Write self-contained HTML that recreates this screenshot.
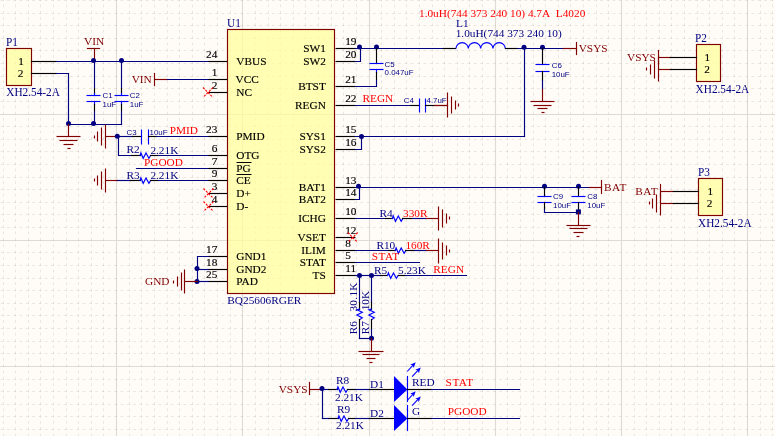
<!DOCTYPE html>
<html><head><meta charset="utf-8"><style>
html,body{margin:0;padding:0;background:#FFFCF8;}
svg{display:block;will-change:transform;}
.se{font-family:"Liberation Serif",serif;}
.sa{font-family:"Liberation Sans",sans-serif;}
</style></head><body>
<svg width="775" height="436" viewBox="0 0 775 436">
<rect width="775" height="436" fill="#FFFCF8"/>
<path d="M3.5,0V436 M15.5,0V436 M28.5,0V436 M40.5,0V436 M53.5,0V436 M66.5,0V436 M78.5,0V436 M91.5,0V436 M103.5,0V436 M129.5,0V436 M141.5,0V436 M154.5,0V436 M167.5,0V436 M179.5,0V436 M192.5,0V436 M204.5,0V436 M217.5,0V436 M230.5,0V436 M255.5,0V436 M268.5,0V436 M280.5,0V436 M293.5,0V436 M305.5,0V436 M318.5,0V436 M331.5,0V436 M343.5,0V436 M356.5,0V436 M381.5,0V436 M394.5,0V436 M406.5,0V436 M419.5,0V436 M432.5,0V436 M444.5,0V436 M457.5,0V436 M469.5,0V436 M482.5,0V436 M507.5,0V436 M520.5,0V436 M533.5,0V436 M545.5,0V436 M558.5,0V436 M570.5,0V436 M583.5,0V436 M596.5,0V436 M608.5,0V436 M634.5,0V436 M646.5,0V436 M659.5,0V436 M671.5,0V436 M684.5,0V436 M697.5,0V436 M709.5,0V436 M722.5,0V436 M734.5,0V436 M760.5,0V436 M772.5,0V436" stroke="rgba(70,70,50,0.115)" stroke-width="1" stroke-dasharray="2.8 3.510" stroke-dashoffset="1.780" fill="none"/>
<path d="M0,0.5H775 M0,13.5H775 M0,25.5H775 M0,38.5H775 M0,50.5H775 M0,63.5H775 M0,76.5H775 M0,88.5H775 M0,101.5H775 M0,126.5H775 M0,139.5H775 M0,151.5H775 M0,164.5H775 M0,177.5H775 M0,189.5H775 M0,202.5H775 M0,214.5H775 M0,227.5H775 M0,252.5H775 M0,265.5H775 M0,278.5H775 M0,290.5H775 M0,303.5H775 M0,315.5H775 M0,328.5H775 M0,341.5H775 M0,353.5H775 M0,379.5H775 M0,391.5H775 M0,404.5H775 M0,416.5H775 M0,429.5H775" stroke="rgba(70,70,50,0.115)" stroke-width="1" stroke-dasharray="2.8 3.510" stroke-dashoffset="5.690" fill="none"/>
<path d="M116.5,0V436 M242.5,0V436 M369.5,0V436 M495.5,0V436 M621.5,0V436 M747.5,0V436 M0,114.5H775 M0,240.5H775 M0,366.5H775" stroke="rgba(70,70,50,0.18)" stroke-width="1.15" fill="none"/>
<rect x="6.5" y="48.5" width="25" height="37" fill="#FFFF98" fill-opacity="0.72"/>
<rect x="696.5" y="44.5" width="24" height="37" fill="#FFFF98" fill-opacity="0.72"/>
<rect x="698.5" y="178.5" width="24" height="37" fill="#FFFF98" fill-opacity="0.72"/>
<rect x="227.5" y="29.5" width="107" height="264" fill="#FFFF98" fill-opacity="0.72"/>
<rect x="6.5" y="48.5" width="25" height="37" fill="none" stroke="#800000" stroke-width="1.15"/>
<rect x="696.5" y="44.5" width="24" height="37" fill="none" stroke="#800000" stroke-width="1.15"/>
<rect x="698.5" y="178.5" width="24" height="37" fill="none" stroke="#800000" stroke-width="1.15"/>
<rect x="227.5" y="29.5" width="107" height="264" fill="none" stroke="#800000" stroke-width="1.15"/>
<text transform="translate(6,45.65) scale(1,1.1)" class="se" fill="#000080" font-size="11.3" text-anchor="start" >P1</text>
<text x="21.2" y="64.95" class="se" fill="#000000" stroke="#000000" stroke-width="0.15" font-size="11.3" text-anchor="middle" >1</text>
<text x="20.6" y="77.25" class="se" fill="#000000" stroke="#000000" stroke-width="0.15" font-size="11.3" text-anchor="middle" >2</text>
<text transform="translate(6.3,95.95) scale(1,1.1)" class="se" fill="#000080" font-size="11.3" text-anchor="start" >XH2.54-2A</text>
<line x1="31.5" y1="61.5" x2="56.5" y2="61.5" stroke="#000000" stroke-width="1.15" stroke-linecap="square" />
<line x1="31.5" y1="73.5" x2="56.5" y2="73.5" stroke="#000000" stroke-width="1.15" stroke-linecap="square" />
<line x1="56.5" y1="61.5" x2="208.5" y2="61.5" stroke="#000080" stroke-width="1.15" stroke-linecap="square" />
<polyline points="56.5,73.5 68.5,73.5 68.5,124.5" stroke="#000080" stroke-width="1.15" fill="none" stroke-linecap="square" />
<text x="84" y="45.45" class="se" fill="#800000" font-size="11.3" text-anchor="start" >VIN</text>
<line x1="87.5" y1="48.5" x2="99.5" y2="48.5" stroke="#800000" stroke-width="1.15" stroke-linecap="square" />
<line x1="94.5" y1="48.5" x2="94.5" y2="61.5" stroke="#800000" stroke-width="1.15" stroke-linecap="square" />
<circle cx="93.5" cy="60.4" r="2.5" fill="#000080"/>
<circle cx="121.5" cy="60.4" r="2.5" fill="#000080"/>
<line x1="94.5" y1="61.5" x2="94.5" y2="87.5" stroke="#000080" stroke-width="1.15" stroke-linecap="square" />
<line x1="94.5" y1="88.5" x2="94.5" y2="93.5" stroke="#000000" stroke-width="1.15" stroke-linecap="square" />
<line x1="94.5" y1="93.5" x2="94.5" y2="95.5" stroke="#0000FF" stroke-width="1.15" stroke-linecap="square" />
<line x1="86.5" y1="95.5" x2="100.5" y2="95.5" stroke="#0000FF" stroke-width="1.15" stroke-linecap="butt" />
<line x1="86.5" y1="101.5" x2="100.5" y2="101.5" stroke="#0000FF" stroke-width="1.15" stroke-linecap="butt" />
<line x1="94.5" y1="101.5" x2="94.5" y2="104.5" stroke="#0000FF" stroke-width="1.15" stroke-linecap="square" />
<line x1="94.5" y1="104.5" x2="94.5" y2="110.5" stroke="#000000" stroke-width="1.15" stroke-linecap="square" />
<line x1="94.5" y1="111.5" x2="94.5" y2="124.5" stroke="#000080" stroke-width="1.15" stroke-linecap="square" />
<line x1="121.5" y1="61.5" x2="121.5" y2="87.5" stroke="#000080" stroke-width="1.15" stroke-linecap="square" />
<line x1="121.5" y1="88.5" x2="121.5" y2="93.5" stroke="#000000" stroke-width="1.15" stroke-linecap="square" />
<line x1="121.5" y1="93.5" x2="121.5" y2="95.5" stroke="#0000FF" stroke-width="1.15" stroke-linecap="square" />
<line x1="114.5" y1="95.5" x2="128.5" y2="95.5" stroke="#0000FF" stroke-width="1.15" stroke-linecap="butt" />
<line x1="114.5" y1="101.5" x2="128.5" y2="101.5" stroke="#0000FF" stroke-width="1.15" stroke-linecap="butt" />
<line x1="121.5" y1="101.5" x2="121.5" y2="104.5" stroke="#0000FF" stroke-width="1.15" stroke-linecap="square" />
<line x1="121.5" y1="104.5" x2="121.5" y2="110.5" stroke="#000000" stroke-width="1.15" stroke-linecap="square" />
<line x1="121.5" y1="111.5" x2="121.5" y2="124.5" stroke="#000080" stroke-width="1.15" stroke-linecap="square" />
<text x="102.5" y="98.02" class="sa" fill="#000080" font-size="7.9" text-anchor="start" >C1</text>
<text x="102.5" y="106.82" class="sa" fill="#000080" font-size="7.9" text-anchor="start" >1uF</text>
<text x="129.8" y="98.02" class="sa" fill="#000080" font-size="7.9" text-anchor="start" >C2</text>
<text x="129.8" y="106.82" class="sa" fill="#000080" font-size="7.9" text-anchor="start" >1uF</text>
<line x1="68.5" y1="124.5" x2="121.5" y2="124.5" stroke="#000080" stroke-width="1.15" stroke-linecap="square" />
<circle cx="68.5" cy="123.4" r="2.5" fill="#000080"/>
<circle cx="93.5" cy="123.4" r="2.5" fill="#000080"/>
<line x1="68.5" y1="124.5" x2="68.5" y2="136.5" stroke="#800000" stroke-width="1.15" stroke-linecap="square" />
<line x1="56.5" y1="136.5" x2="80.5" y2="136.5" stroke="#800000" stroke-width="1.15" stroke-linecap="butt" />
<line x1="59.5" y1="140.5" x2="77.5" y2="140.5" stroke="#800000" stroke-width="1.15" stroke-linecap="butt" />
<line x1="63.5" y1="144.5" x2="73.5" y2="144.5" stroke="#800000" stroke-width="1.15" stroke-linecap="butt" />
<line x1="67.5" y1="148.5" x2="70.5" y2="148.5" stroke="#800000" stroke-width="1.15" stroke-linecap="butt" />
<line x1="117.5" y1="136.5" x2="105.5" y2="136.5" stroke="#800000" stroke-width="1.15" stroke-linecap="square" />
<line x1="105.5" y1="124.5" x2="105.5" y2="148.5" stroke="#800000" stroke-width="1.15" stroke-linecap="butt" />
<line x1="101.5" y1="127.5" x2="101.5" y2="145.5" stroke="#800000" stroke-width="1.15" stroke-linecap="butt" />
<line x1="97.5" y1="131.5" x2="97.5" y2="141.5" stroke="#800000" stroke-width="1.15" stroke-linecap="butt" />
<line x1="94.5" y1="135.5" x2="94.5" y2="138.5" stroke="#800000" stroke-width="1.15" stroke-linecap="butt" />
<circle cx="117.3" cy="136.2" r="2.5" fill="#000080"/>
<line x1="117.5" y1="136.5" x2="132.5" y2="136.5" stroke="#000080" stroke-width="1.15" stroke-linecap="square" />
<line x1="132.5" y1="136.5" x2="141.5" y2="136.5" stroke="#000000" stroke-width="1.15" stroke-linecap="square" />
<line x1="141.5" y1="129.5" x2="141.5" y2="144.5" stroke="#0000FF" stroke-width="1.15" stroke-linecap="butt" />
<line x1="148.5" y1="129.5" x2="148.5" y2="144.5" stroke="#0000FF" stroke-width="1.15" stroke-linecap="butt" />
<line x1="148.5" y1="136.5" x2="156.5" y2="136.5" stroke="#000000" stroke-width="1.15" stroke-linecap="square" />
<line x1="156.5" y1="136.5" x2="208.5" y2="136.5" stroke="#000080" stroke-width="1.15" stroke-linecap="square" />
<text x="126.5" y="134.82" class="sa" fill="#000080" font-size="7.9" text-anchor="start" >C3</text>
<text x="149.5" y="135.22" class="sa" fill="#000080" font-size="7.9" text-anchor="start" >10uF</text>
<text x="169.7" y="133.85" class="se" fill="#FF0000" font-size="11.3" text-anchor="start" >PMID</text>
<polyline points="118.5,136.5 118.5,155.5 131.5,155.5" stroke="#000080" stroke-width="1.15" fill="none" stroke-linecap="square" />
<line x1="131.5" y1="155.5" x2="140.5" y2="155.5" stroke="#000000" stroke-width="1.15" stroke-linecap="square" />
<polyline points="140,155.5 140.9,152.9 143.2,158.3 146.0,152.9 148.9,158.3 150.6,155.5" stroke="#0000FF" stroke-width="1.15" fill="none" stroke-linecap="square" />
<line x1="150.5" y1="155.5" x2="158.5" y2="155.5" stroke="#000000" stroke-width="1.15" stroke-linecap="square" />
<line x1="158.5" y1="155.5" x2="208.5" y2="155.5" stroke="#000080" stroke-width="1.15" stroke-linecap="square" />
<text x="126.5" y="153.15" class="se" fill="#000080" font-size="11.3" text-anchor="start" >R2</text>
<text x="150.4" y="153.65" class="se" fill="#000080" font-size="11.3" text-anchor="start" >2.21K</text>
<text x="144" y="165.95" class="se" fill="#FF0000" font-size="11.3" text-anchor="start" >PGOOD</text>
<line x1="136.5" y1="168.5" x2="208.5" y2="168.5" stroke="#000080" stroke-width="1.15" stroke-linecap="square" />
<line x1="117.5" y1="180.5" x2="105.5" y2="180.5" stroke="#800000" stroke-width="1.15" stroke-linecap="square" />
<line x1="105.5" y1="168.5" x2="105.5" y2="192.5" stroke="#800000" stroke-width="1.15" stroke-linecap="butt" />
<line x1="101.5" y1="171.5" x2="101.5" y2="189.5" stroke="#800000" stroke-width="1.15" stroke-linecap="butt" />
<line x1="97.5" y1="175.5" x2="97.5" y2="185.5" stroke="#800000" stroke-width="1.15" stroke-linecap="butt" />
<line x1="94.5" y1="178.5" x2="94.5" y2="181.5" stroke="#800000" stroke-width="1.15" stroke-linecap="butt" />
<line x1="117.5" y1="180.5" x2="130.5" y2="180.5" stroke="#000080" stroke-width="1.15" stroke-linecap="square" />
<line x1="130.5" y1="180.5" x2="140.5" y2="180.5" stroke="#000000" stroke-width="1.15" stroke-linecap="square" />
<polyline points="140,180.5 140.9,177.9 143.2,183.3 146.0,177.9 148.9,183.3 150.6,180.5" stroke="#0000FF" stroke-width="1.15" fill="none" stroke-linecap="square" />
<line x1="150.5" y1="180.5" x2="158.5" y2="180.5" stroke="#000000" stroke-width="1.15" stroke-linecap="square" />
<line x1="158.5" y1="180.5" x2="208.5" y2="180.5" stroke="#000080" stroke-width="1.15" stroke-linecap="square" />
<text x="126.5" y="178.85" class="se" fill="#000080" font-size="11.3" text-anchor="start" >R3</text>
<text x="150.4" y="179.15" class="se" fill="#000080" font-size="11.3" text-anchor="start" >2.21K</text>
<text x="131.7" y="83.25" class="se" fill="#800000" font-size="11.3" text-anchor="start" >VIN</text>
<line x1="154.5" y1="73.5" x2="154.5" y2="85.5" stroke="#800000" stroke-width="1.15" stroke-linecap="square" />
<line x1="154.5" y1="79.5" x2="167.5" y2="79.5" stroke="#800000" stroke-width="1.15" stroke-linecap="square" />
<line x1="167.5" y1="79.5" x2="208.5" y2="79.5" stroke="#000080" stroke-width="1.15" stroke-linecap="square" />
<text transform="translate(227.0,27.25) scale(1,1.1)" class="se" fill="#000080" font-size="11.3" text-anchor="start" >U1</text>
<text x="227.3" y="303.85" class="se" fill="#000080" font-size="11.3" text-anchor="start" >BQ25606RGER</text>
<line x1="208.5" y1="61.5" x2="227.5" y2="61.5" stroke="#000000" stroke-width="1.15" stroke-linecap="butt" />
<text x="217.3" y="58.3" class="se" fill="#000000" stroke="#000000" stroke-width="0.15" font-size="11.3" text-anchor="end" >24</text>
<text x="236.3" y="65.0" class="se" fill="#000000" stroke="#000000" stroke-width="0.15" font-size="11.3" text-anchor="start" >VBUS</text>
<line x1="208.5" y1="79.5" x2="227.5" y2="79.5" stroke="#000000" stroke-width="1.15" stroke-linecap="butt" />
<text x="217.3" y="76.3" class="se" fill="#000000" stroke="#000000" stroke-width="0.15" font-size="11.3" text-anchor="end" >1</text>
<text x="235.5" y="83.0" class="se" fill="#000000" stroke="#000000" stroke-width="0.15" font-size="11.3" text-anchor="start" >VCC</text>
<line x1="208.5" y1="92.5" x2="227.5" y2="92.5" stroke="#000000" stroke-width="1.15" stroke-linecap="butt" />
<text x="217.3" y="89.3" class="se" fill="#000000" stroke="#000000" stroke-width="0.15" font-size="11.3" text-anchor="end" >2</text>
<text x="236.3" y="96.0" class="se" fill="#000000" stroke="#000000" stroke-width="0.15" font-size="11.3" text-anchor="start" >NC</text>
<line x1="208.5" y1="136.5" x2="227.5" y2="136.5" stroke="#000000" stroke-width="1.15" stroke-linecap="butt" />
<text x="217.3" y="133.3" class="se" fill="#000000" stroke="#000000" stroke-width="0.15" font-size="11.3" text-anchor="end" >23</text>
<text x="236.3" y="140.0" class="se" fill="#000000" stroke="#000000" stroke-width="0.15" font-size="11.3" text-anchor="start" >PMID</text>
<line x1="208.5" y1="155.5" x2="227.5" y2="155.5" stroke="#000000" stroke-width="1.15" stroke-linecap="butt" />
<text x="217.3" y="152.3" class="se" fill="#000000" stroke="#000000" stroke-width="0.15" font-size="11.3" text-anchor="end" >6</text>
<text x="236.3" y="159.0" class="se" fill="#000000" stroke="#000000" stroke-width="0.15" font-size="11.3" text-anchor="start" >OTG</text>
<line x1="208.5" y1="168.5" x2="227.5" y2="168.5" stroke="#000000" stroke-width="1.15" stroke-linecap="butt" />
<text x="217.3" y="165.3" class="se" fill="#000000" stroke="#000000" stroke-width="0.15" font-size="11.3" text-anchor="end" >7</text>
<text x="236.3" y="172.0" class="se" fill="#000000" stroke="#000000" stroke-width="0.15" font-size="11.3" text-anchor="start" >PG</text>
<line x1="208.5" y1="180.5" x2="227.5" y2="180.5" stroke="#000000" stroke-width="1.15" stroke-linecap="butt" />
<text x="217.3" y="177.3" class="se" fill="#000000" stroke="#000000" stroke-width="0.15" font-size="11.3" text-anchor="end" >9</text>
<text x="236.3" y="184.0" class="se" fill="#000000" stroke="#000000" stroke-width="0.15" font-size="11.3" text-anchor="start" >CE</text>
<line x1="208.5" y1="193.5" x2="227.5" y2="193.5" stroke="#000000" stroke-width="1.15" stroke-linecap="butt" />
<text x="217.3" y="190.3" class="se" fill="#000000" stroke="#000000" stroke-width="0.15" font-size="11.3" text-anchor="end" >3</text>
<text x="236.3" y="197.0" class="se" fill="#000000" stroke="#000000" stroke-width="0.15" font-size="11.3" text-anchor="start" >D+</text>
<line x1="208.5" y1="206.5" x2="227.5" y2="206.5" stroke="#000000" stroke-width="1.15" stroke-linecap="butt" />
<text x="217.3" y="203.3" class="se" fill="#000000" stroke="#000000" stroke-width="0.15" font-size="11.3" text-anchor="end" >4</text>
<text x="236.3" y="210.0" class="se" fill="#000000" stroke="#000000" stroke-width="0.15" font-size="11.3" text-anchor="start" >D-</text>
<line x1="208.5" y1="256.5" x2="227.5" y2="256.5" stroke="#000000" stroke-width="1.15" stroke-linecap="butt" />
<text x="217.3" y="253.3" class="se" fill="#000000" stroke="#000000" stroke-width="0.15" font-size="11.3" text-anchor="end" >17</text>
<text x="236.3" y="260.0" class="se" fill="#000000" stroke="#000000" stroke-width="0.15" font-size="11.3" text-anchor="start" >GND1</text>
<line x1="208.5" y1="269.5" x2="227.5" y2="269.5" stroke="#000000" stroke-width="1.15" stroke-linecap="butt" />
<text x="217.3" y="266.3" class="se" fill="#000000" stroke="#000000" stroke-width="0.15" font-size="11.3" text-anchor="end" >18</text>
<text x="236.3" y="273.0" class="se" fill="#000000" stroke="#000000" stroke-width="0.15" font-size="11.3" text-anchor="start" >GND2</text>
<line x1="208.5" y1="281.5" x2="227.5" y2="281.5" stroke="#000000" stroke-width="1.15" stroke-linecap="butt" />
<text x="217.3" y="278.3" class="se" fill="#000000" stroke="#000000" stroke-width="0.15" font-size="11.3" text-anchor="end" >25</text>
<text x="236.3" y="285.0" class="se" fill="#000000" stroke="#000000" stroke-width="0.15" font-size="11.3" text-anchor="start" >PAD</text>
<line x1="236.5" y1="162.5" x2="251.5" y2="162.5" stroke="#000000" stroke-width="1" stroke-linecap="butt" />
<line x1="236.5" y1="174.5" x2="251.5" y2="174.5" stroke="#000000" stroke-width="1" stroke-linecap="butt" />
<path d="M203.0,87.5L213.0,97.5M213.0,87.5L203.0,97.5" stroke="#FF0000" stroke-width="1.1" stroke-dasharray="2.2 1.3" fill="none"/>
<path d="M203.5,188.5L213.5,198.5M213.5,188.5L203.5,198.5" stroke="#FF0000" stroke-width="1.1" stroke-dasharray="2.2 1.3" fill="none"/>
<path d="M203.5,201.5L213.5,211.5M213.5,201.5L203.5,211.5" stroke="#FF0000" stroke-width="1.1" stroke-dasharray="2.2 1.3" fill="none"/>
<line x1="335.5" y1="48.5" x2="355.5" y2="48.5" stroke="#000000" stroke-width="1.15" stroke-linecap="butt" />
<text x="345.2" y="45.3" class="se" fill="#000000" stroke="#000000" stroke-width="0.15" font-size="11.3" text-anchor="start" >19</text>
<text x="325.8" y="52.0" class="se" fill="#000000" stroke="#000000" stroke-width="0.15" font-size="11.3" text-anchor="end" >SW1</text>
<line x1="335.5" y1="61.5" x2="355.5" y2="61.5" stroke="#000000" stroke-width="1.15" stroke-linecap="butt" />
<text x="345.2" y="58.3" class="se" fill="#000000" stroke="#000000" stroke-width="0.15" font-size="11.3" text-anchor="start" >20</text>
<text x="325.8" y="65.0" class="se" fill="#000000" stroke="#000000" stroke-width="0.15" font-size="11.3" text-anchor="end" >SW2</text>
<line x1="335.5" y1="86.5" x2="355.5" y2="86.5" stroke="#000000" stroke-width="1.15" stroke-linecap="butt" />
<text x="345.2" y="83.3" class="se" fill="#000000" stroke="#000000" stroke-width="0.15" font-size="11.3" text-anchor="start" >21</text>
<text x="325.8" y="90.0" class="se" fill="#000000" stroke="#000000" stroke-width="0.15" font-size="11.3" text-anchor="end" >BTST</text>
<line x1="335.5" y1="105.5" x2="355.5" y2="105.5" stroke="#000000" stroke-width="1.15" stroke-linecap="butt" />
<text x="345.2" y="102.3" class="se" fill="#000000" stroke="#000000" stroke-width="0.15" font-size="11.3" text-anchor="start" >22</text>
<text x="325.8" y="109.0" class="se" fill="#000000" stroke="#000000" stroke-width="0.15" font-size="11.3" text-anchor="end" >REGN</text>
<line x1="335.5" y1="136.5" x2="355.5" y2="136.5" stroke="#000000" stroke-width="1.15" stroke-linecap="butt" />
<text x="345.2" y="133.3" class="se" fill="#000000" stroke="#000000" stroke-width="0.15" font-size="11.3" text-anchor="start" >15</text>
<text x="325.8" y="140.0" class="se" fill="#000000" stroke="#000000" stroke-width="0.15" font-size="11.3" text-anchor="end" >SYS1</text>
<line x1="335.5" y1="149.5" x2="355.5" y2="149.5" stroke="#000000" stroke-width="1.15" stroke-linecap="butt" />
<text x="345.2" y="146.3" class="se" fill="#000000" stroke="#000000" stroke-width="0.15" font-size="11.3" text-anchor="start" >16</text>
<text x="325.8" y="153.0" class="se" fill="#000000" stroke="#000000" stroke-width="0.15" font-size="11.3" text-anchor="end" >SYS2</text>
<line x1="335.5" y1="187.5" x2="355.5" y2="187.5" stroke="#000000" stroke-width="1.15" stroke-linecap="butt" />
<text x="345.2" y="184.3" class="se" fill="#000000" stroke="#000000" stroke-width="0.15" font-size="11.3" text-anchor="start" >13</text>
<text x="325.8" y="191.0" class="se" fill="#000000" stroke="#000000" stroke-width="0.15" font-size="11.3" text-anchor="end" >BAT1</text>
<line x1="335.5" y1="199.5" x2="355.5" y2="199.5" stroke="#000000" stroke-width="1.15" stroke-linecap="butt" />
<text x="345.2" y="196.3" class="se" fill="#000000" stroke="#000000" stroke-width="0.15" font-size="11.3" text-anchor="start" >14</text>
<text x="325.8" y="203.0" class="se" fill="#000000" stroke="#000000" stroke-width="0.15" font-size="11.3" text-anchor="end" >BAT2</text>
<line x1="335.5" y1="218.5" x2="355.5" y2="218.5" stroke="#000000" stroke-width="1.15" stroke-linecap="butt" />
<text x="345.2" y="215.3" class="se" fill="#000000" stroke="#000000" stroke-width="0.15" font-size="11.3" text-anchor="start" >10</text>
<text x="325.8" y="222.0" class="se" fill="#000000" stroke="#000000" stroke-width="0.15" font-size="11.3" text-anchor="end" >ICHG</text>
<line x1="335.5" y1="237.5" x2="355.5" y2="237.5" stroke="#000000" stroke-width="1.15" stroke-linecap="butt" />
<text x="345.2" y="234.3" class="se" fill="#000000" stroke="#000000" stroke-width="0.15" font-size="11.3" text-anchor="start" >12</text>
<text x="325.8" y="241.0" class="se" fill="#000000" stroke="#000000" stroke-width="0.15" font-size="11.3" text-anchor="end" >VSET</text>
<line x1="335.5" y1="250.5" x2="355.5" y2="250.5" stroke="#000000" stroke-width="1.15" stroke-linecap="butt" />
<text x="345.2" y="247.3" class="se" fill="#000000" stroke="#000000" stroke-width="0.15" font-size="11.3" text-anchor="start" >8</text>
<text x="325.8" y="254.0" class="se" fill="#000000" stroke="#000000" stroke-width="0.15" font-size="11.3" text-anchor="end" >ILIM</text>
<line x1="335.5" y1="262.5" x2="355.5" y2="262.5" stroke="#000000" stroke-width="1.15" stroke-linecap="butt" />
<text x="345.2" y="259.3" class="se" fill="#000000" stroke="#000000" stroke-width="0.15" font-size="11.3" text-anchor="start" >5</text>
<text x="325.8" y="266.0" class="se" fill="#000000" stroke="#000000" stroke-width="0.15" font-size="11.3" text-anchor="end" >STAT</text>
<line x1="335.5" y1="275.5" x2="355.5" y2="275.5" stroke="#000000" stroke-width="1.15" stroke-linecap="butt" />
<text x="345.2" y="272.3" class="se" fill="#000000" stroke="#000000" stroke-width="0.15" font-size="11.3" text-anchor="start" >11</text>
<text x="325.8" y="279.0" class="se" fill="#000000" stroke="#000000" stroke-width="0.15" font-size="11.3" text-anchor="end" >TS</text>
<path d="M347.7,232.5L357.7,242.5M357.7,232.5L347.7,242.5" stroke="#FF0000" stroke-width="1.1" stroke-dasharray="2.2 1.3" fill="none"/>
<polyline points="208.5,256.5 197.5,256.5 197.5,281.5" stroke="#000080" stroke-width="1.15" fill="none" stroke-linecap="square" />
<line x1="197.5" y1="269.5" x2="208.5" y2="269.5" stroke="#000080" stroke-width="1.15" stroke-linecap="square" />
<line x1="197.5" y1="281.5" x2="208.5" y2="281.5" stroke="#000080" stroke-width="1.15" stroke-linecap="square" />
<circle cx="197.0" cy="268.4" r="2.5" fill="#000080"/>
<circle cx="197.0" cy="281.5" r="2.5" fill="#000080"/>
<line x1="197.5" y1="281.5" x2="184.5" y2="281.5" stroke="#800000" stroke-width="1.15" stroke-linecap="square" />
<line x1="184.5" y1="269.5" x2="184.5" y2="293.5" stroke="#800000" stroke-width="1.15" stroke-linecap="butt" />
<line x1="181.5" y1="272.5" x2="181.5" y2="290.5" stroke="#800000" stroke-width="1.15" stroke-linecap="butt" />
<line x1="177.5" y1="276.5" x2="177.5" y2="286.5" stroke="#800000" stroke-width="1.15" stroke-linecap="butt" />
<line x1="173.5" y1="280.5" x2="173.5" y2="283.5" stroke="#800000" stroke-width="1.15" stroke-linecap="butt" />
<text x="145" y="285.45" class="se" fill="#800000" font-size="11.3" text-anchor="start" >GND</text>
<line x1="355.5" y1="48.5" x2="443.5" y2="48.5" stroke="#000080" stroke-width="1.15" stroke-linecap="square" />
<polyline points="355.5,61.5 360.5,61.5 360.5,48.5" stroke="#000080" stroke-width="1.15" fill="none" stroke-linecap="square" />
<circle cx="359.5" cy="47.1" r="2.5" fill="#000080"/>
<circle cx="376.5" cy="47.1" r="2.5" fill="#000080"/>
<line x1="376.5" y1="48.5" x2="376.5" y2="63.5" stroke="#000000" stroke-width="1.15" stroke-linecap="square" />
<line x1="369.5" y1="63.5" x2="383.5" y2="63.5" stroke="#0000FF" stroke-width="1.15" stroke-linecap="butt" />
<line x1="369.5" y1="69.5" x2="383.5" y2="69.5" stroke="#0000FF" stroke-width="1.15" stroke-linecap="butt" />
<line x1="376.5" y1="69.5" x2="376.5" y2="72.5" stroke="#0000FF" stroke-width="1.15" stroke-linecap="square" />
<line x1="376.5" y1="72.5" x2="376.5" y2="79.5" stroke="#000000" stroke-width="1.15" stroke-linecap="square" />
<polyline points="376.5,80.5 376.5,86.5 355.5,86.5" stroke="#000080" stroke-width="1.15" fill="none" stroke-linecap="square" />
<text x="384.6" y="66.82" class="sa" fill="#000080" font-size="7.9" text-anchor="start" >C5</text>
<text x="384.6" y="75.12" class="sa" fill="#000080" font-size="7.9" text-anchor="start" >0.047uF</text>
<line x1="443.5" y1="48.5" x2="455.5" y2="48.5" stroke="#000000" stroke-width="1.15" stroke-linecap="square" />
<path d="M456.0,48.5 a6.163,6.0 0 0 1 12.325,0 a6.163,6.0 0 0 1 12.325,0 a6.163,6.0 0 0 1 12.325,0 a6.163,6.0 0 0 1 12.325,0" stroke="#0000FF" stroke-width="1.15" fill="none"/>
<line x1="505.5" y1="48.5" x2="517.5" y2="48.5" stroke="#000000" stroke-width="1.15" stroke-linecap="square" />
<line x1="517.5" y1="48.5" x2="563.5" y2="48.5" stroke="#000080" stroke-width="1.15" stroke-linecap="square" />
<line x1="563.5" y1="48.5" x2="576.5" y2="48.5" stroke="#800000" stroke-width="1.15" stroke-linecap="square" />
<line x1="576.5" y1="42.5" x2="576.5" y2="54.5" stroke="#800000" stroke-width="1.15" stroke-linecap="square" />
<text x="578.7" y="51.85" class="se" fill="#800000" font-size="11.3" text-anchor="start" >VSYS</text>
<circle cx="524.0" cy="47.3" r="2.5" fill="#000080"/>
<circle cx="542.5" cy="47.3" r="2.5" fill="#000080"/>
<text x="419" y="17.2" class="se" fill="#FF0000" font-size="11.3" text-anchor="start" >1.0uH(744 373 240 10) 4.7A&#160; L4020</text>
<text x="456" y="27.35" class="se" fill="#000080" font-size="11.3" text-anchor="start" >L1</text>
<text x="455.7" y="36.65" class="se" fill="#000080" font-size="11.3" text-anchor="start" >1.0uH(744 373 240 10)</text>
<line x1="542.5" y1="48.5" x2="542.5" y2="64.5" stroke="#000000" stroke-width="1.15" stroke-linecap="square" />
<line x1="535.5" y1="64.5" x2="549.5" y2="64.5" stroke="#0000FF" stroke-width="1.15" stroke-linecap="butt" />
<line x1="535.5" y1="71.5" x2="549.5" y2="71.5" stroke="#0000FF" stroke-width="1.15" stroke-linecap="butt" />
<line x1="542.5" y1="71.5" x2="542.5" y2="80.5" stroke="#000000" stroke-width="1.15" stroke-linecap="square" />
<line x1="542.5" y1="80.5" x2="542.5" y2="89.5" stroke="#000080" stroke-width="1.15" stroke-linecap="square" />
<line x1="542.5" y1="89.5" x2="542.5" y2="101.5" stroke="#800000" stroke-width="1.15" stroke-linecap="square" />
<line x1="530.5" y1="101.5" x2="554.5" y2="101.5" stroke="#800000" stroke-width="1.15" stroke-linecap="butt" />
<line x1="533.5" y1="105.5" x2="551.5" y2="105.5" stroke="#800000" stroke-width="1.15" stroke-linecap="butt" />
<line x1="537.5" y1="108.5" x2="547.5" y2="108.5" stroke="#800000" stroke-width="1.15" stroke-linecap="butt" />
<line x1="541.5" y1="112.5" x2="544.5" y2="112.5" stroke="#800000" stroke-width="1.15" stroke-linecap="butt" />
<text x="551.7" y="67.92" class="sa" fill="#000080" font-size="7.9" text-anchor="start" >C6</text>
<text x="551.7" y="76.82" class="sa" fill="#000080" font-size="7.9" text-anchor="start" >10uF</text>
<line x1="355.5" y1="136.5" x2="524.5" y2="136.5" stroke="#000080" stroke-width="1.15" stroke-linecap="square" />
<line x1="524.5" y1="136.5" x2="524.5" y2="48.5" stroke="#000080" stroke-width="1.15" stroke-linecap="square" />
<polyline points="355.5,149.5 361.5,149.5 361.5,136.5" stroke="#000080" stroke-width="1.15" fill="none" stroke-linecap="square" />
<circle cx="361.5" cy="136.5" r="2.5" fill="#000080"/>
<line x1="355.5" y1="105.5" x2="410.5" y2="105.5" stroke="#000080" stroke-width="1.15" stroke-linecap="square" />
<line x1="410.5" y1="105.5" x2="419.5" y2="105.5" stroke="#000000" stroke-width="1.15" stroke-linecap="square" />
<line x1="419.5" y1="98.5" x2="419.5" y2="112.5" stroke="#0000FF" stroke-width="1.15" stroke-linecap="butt" />
<line x1="425.5" y1="98.5" x2="425.5" y2="112.5" stroke="#0000FF" stroke-width="1.15" stroke-linecap="butt" />
<line x1="425.5" y1="105.5" x2="434.5" y2="105.5" stroke="#000000" stroke-width="1.15" stroke-linecap="square" />
<line x1="435.5" y1="105.5" x2="447.5" y2="105.5" stroke="#800000" stroke-width="1.15" stroke-linecap="square" />
<line x1="447.5" y1="92.5" x2="447.5" y2="117.5" stroke="#800000" stroke-width="1.15" stroke-linecap="butt" />
<line x1="451.5" y1="96.5" x2="451.5" y2="113.5" stroke="#800000" stroke-width="1.15" stroke-linecap="butt" />
<line x1="455.5" y1="100.5" x2="455.5" y2="109.5" stroke="#800000" stroke-width="1.15" stroke-linecap="butt" />
<line x1="458.5" y1="103.5" x2="458.5" y2="106.5" stroke="#800000" stroke-width="1.15" stroke-linecap="butt" />
<line x1="434.5" y1="105.5" x2="447.5" y2="105.5" stroke="#800000" stroke-width="1.15" stroke-linecap="square" />
<text x="362.5" y="102.35" class="se" fill="#FF0000" font-size="11.3" text-anchor="start" >REGN</text>
<text x="403.8" y="102.62" class="sa" fill="#000080" font-size="7.9" text-anchor="start" >C4</text>
<text x="426.5" y="102.62" class="sa" fill="#000080" font-size="7.9" text-anchor="start" >4.7uF</text>
<line x1="355.5" y1="187.5" x2="589.5" y2="187.5" stroke="#000080" stroke-width="1.15" stroke-linecap="square" />
<line x1="589.5" y1="187.5" x2="601.5" y2="187.5" stroke="#800000" stroke-width="1.15" stroke-linecap="square" />
<line x1="601.5" y1="180.5" x2="601.5" y2="193.5" stroke="#800000" stroke-width="1.15" stroke-linecap="square" />
<text x="604" y="191.05" class="se" fill="#800000" font-size="11.3" text-anchor="start" letter-spacing="0.5">BAT</text>
<polyline points="355.5,199.5 359.5,199.5 359.5,187.5" stroke="#000080" stroke-width="1.15" fill="none" stroke-linecap="square" />
<circle cx="358.5" cy="186.3" r="2.5" fill="#000080"/>
<circle cx="544.5" cy="186.3" r="2.5" fill="#000080"/>
<circle cx="578.5" cy="186.3" r="2.5" fill="#000080"/>
<line x1="544.5" y1="187.5" x2="544.5" y2="196.5" stroke="#000000" stroke-width="1.15" stroke-linecap="square" />
<line x1="537.5" y1="196.5" x2="551.5" y2="196.5" stroke="#0000FF" stroke-width="1.15" stroke-linecap="butt" />
<line x1="537.5" y1="202.5" x2="551.5" y2="202.5" stroke="#0000FF" stroke-width="1.15" stroke-linecap="butt" />
<line x1="578.5" y1="187.5" x2="578.5" y2="196.5" stroke="#000000" stroke-width="1.15" stroke-linecap="square" />
<line x1="571.5" y1="196.5" x2="585.5" y2="196.5" stroke="#0000FF" stroke-width="1.15" stroke-linecap="butt" />
<line x1="571.5" y1="202.5" x2="585.5" y2="202.5" stroke="#0000FF" stroke-width="1.15" stroke-linecap="butt" />
<line x1="544.5" y1="202.5" x2="544.5" y2="209.5" stroke="#000000" stroke-width="1.15" stroke-linecap="square" />
<line x1="544.5" y1="209.5" x2="544.5" y2="212.5" stroke="#000080" stroke-width="1.15" stroke-linecap="square" />
<line x1="578.5" y1="202.5" x2="578.5" y2="212.5" stroke="#000000" stroke-width="1.15" stroke-linecap="square" />
<line x1="544.5" y1="212.5" x2="578.5" y2="212.5" stroke="#000080" stroke-width="1.15" stroke-linecap="square" />
<rect x="575.9" y="209.4" width="5" height="5" fill="#000080"/>
<line x1="578.5" y1="212.5" x2="578.5" y2="225.5" stroke="#800000" stroke-width="1.15" stroke-linecap="square" />
<line x1="566.5" y1="225.5" x2="590.5" y2="225.5" stroke="#800000" stroke-width="1.15" stroke-linecap="butt" />
<line x1="569.5" y1="228.5" x2="587.5" y2="228.5" stroke="#800000" stroke-width="1.15" stroke-linecap="butt" />
<line x1="573.5" y1="232.5" x2="583.5" y2="232.5" stroke="#800000" stroke-width="1.15" stroke-linecap="butt" />
<line x1="576.5" y1="236.5" x2="579.5" y2="236.5" stroke="#800000" stroke-width="1.15" stroke-linecap="butt" />
<text x="553" y="199.32" class="sa" fill="#000080" font-size="7.9" text-anchor="start" >C9</text>
<text x="553" y="207.62" class="sa" fill="#000080" font-size="7.9" text-anchor="start" >10uF</text>
<text x="587.3" y="199.32" class="sa" fill="#000080" font-size="7.9" text-anchor="start" >C8</text>
<text x="587.3" y="207.62" class="sa" fill="#000080" font-size="7.9" text-anchor="start" >10uF</text>
<line x1="355.5" y1="218.5" x2="385.5" y2="218.5" stroke="#000080" stroke-width="1.15" stroke-linecap="square" />
<line x1="385.5" y1="218.5" x2="392.5" y2="218.5" stroke="#000000" stroke-width="1.15" stroke-linecap="square" />
<polyline points="392.3,218.5 393.2,215.9 395.5,221.3 398.3,215.9 401.2,221.3 402.9,218.5" stroke="#0000FF" stroke-width="1.15" fill="none" stroke-linecap="square" />
<line x1="402.5" y1="218.5" x2="411.5" y2="218.5" stroke="#000000" stroke-width="1.15" stroke-linecap="square" />
<line x1="412.5" y1="218.5" x2="426.5" y2="218.5" stroke="#000080" stroke-width="1.15" stroke-linecap="square" />
<line x1="426.5" y1="218.5" x2="438.5" y2="218.5" stroke="#800000" stroke-width="1.15" stroke-linecap="square" />
<line x1="438.5" y1="206.5" x2="438.5" y2="230.5" stroke="#800000" stroke-width="1.15" stroke-linecap="butt" />
<line x1="442.5" y1="209.5" x2="442.5" y2="227.5" stroke="#800000" stroke-width="1.15" stroke-linecap="butt" />
<line x1="446.5" y1="213.5" x2="446.5" y2="223.5" stroke="#800000" stroke-width="1.15" stroke-linecap="butt" />
<line x1="449.5" y1="216.5" x2="449.5" y2="219.5" stroke="#800000" stroke-width="1.15" stroke-linecap="butt" />
<text x="379.4" y="217.45" class="se" fill="#000080" font-size="11.3" text-anchor="start" >R4</text>
<text x="403" y="217.45" class="se" fill="#FF0000" font-size="11.3" text-anchor="start" >330R</text>
<line x1="355.5" y1="250.5" x2="388.5" y2="250.5" stroke="#000080" stroke-width="1.15" stroke-linecap="square" />
<line x1="388.5" y1="250.5" x2="395.5" y2="250.5" stroke="#000000" stroke-width="1.15" stroke-linecap="square" />
<polyline points="395.2,250.5 396.1,247.9 398.4,253.3 401.2,247.9 404.1,253.3 405.8,250.5" stroke="#0000FF" stroke-width="1.15" fill="none" stroke-linecap="square" />
<line x1="405.5" y1="250.5" x2="414.5" y2="250.5" stroke="#000000" stroke-width="1.15" stroke-linecap="square" />
<line x1="414.5" y1="250.5" x2="426.5" y2="250.5" stroke="#000080" stroke-width="1.15" stroke-linecap="square" />
<line x1="426.5" y1="250.5" x2="438.5" y2="250.5" stroke="#800000" stroke-width="1.15" stroke-linecap="square" />
<line x1="438.5" y1="238.5" x2="438.5" y2="263.5" stroke="#800000" stroke-width="1.15" stroke-linecap="butt" />
<line x1="442.5" y1="242.5" x2="442.5" y2="259.5" stroke="#800000" stroke-width="1.15" stroke-linecap="butt" />
<line x1="446.5" y1="245.5" x2="446.5" y2="255.5" stroke="#800000" stroke-width="1.15" stroke-linecap="butt" />
<line x1="449.5" y1="249.5" x2="449.5" y2="252.5" stroke="#800000" stroke-width="1.15" stroke-linecap="butt" />
<text x="376.4" y="248.65" class="se" fill="#000080" font-size="11.3" text-anchor="start" >R10</text>
<text x="405.4" y="248.65" class="se" fill="#FF0000" font-size="11.3" text-anchor="start" >160R</text>
<line x1="355.5" y1="262.5" x2="419.5" y2="262.5" stroke="#000080" stroke-width="1.15" stroke-linecap="square" />
<text x="371.7" y="260.05" class="se" fill="#FF0000" font-size="11.3" text-anchor="start" letter-spacing="0.5">STAT</text>
<line x1="355.5" y1="275.5" x2="380.5" y2="275.5" stroke="#000080" stroke-width="1.15" stroke-linecap="square" />
<line x1="380.5" y1="275.5" x2="387.5" y2="275.5" stroke="#000000" stroke-width="1.15" stroke-linecap="square" />
<polyline points="387.5,275.5 388.4,272.9 390.7,278.3 393.5,272.9 396.4,278.3 398.1,275.5" stroke="#0000FF" stroke-width="1.15" fill="none" stroke-linecap="square" />
<line x1="398.5" y1="275.5" x2="405.5" y2="275.5" stroke="#000000" stroke-width="1.15" stroke-linecap="square" />
<line x1="405.5" y1="275.5" x2="466.5" y2="275.5" stroke="#000080" stroke-width="1.15" stroke-linecap="square" />
<circle cx="359.5" cy="275.5" r="2.5" fill="#000080"/>
<circle cx="371.5" cy="275.5" r="2.5" fill="#000080"/>
<text x="374" y="273.95" class="se" fill="#000080" font-size="11.3" text-anchor="start" >R5</text>
<text x="398" y="273.95" class="se" fill="#000080" font-size="11.3" text-anchor="start" >5.23K</text>
<text x="433.3" y="273.05" class="se" fill="#FF0000" font-size="11.3" text-anchor="start" >REGN</text>
<line x1="359.5" y1="275.5" x2="359.5" y2="302.5" stroke="#000080" stroke-width="1.15" stroke-linecap="square" />
<line x1="359.5" y1="302.5" x2="359.5" y2="309.5" stroke="#000000" stroke-width="1.15" stroke-linecap="square" />
<polyline points="359.5,309 356.9,309.9 362.3,312.2 356.9,315.0 362.3,317.9 359.5,319.6" stroke="#0000FF" stroke-width="1.15" fill="none" stroke-linecap="square" />
<line x1="359.5" y1="319.5" x2="359.5" y2="329.5" stroke="#000000" stroke-width="1.15" stroke-linecap="square" />
<line x1="359.5" y1="329.5" x2="359.5" y2="338.5" stroke="#000080" stroke-width="1.15" stroke-linecap="square" />
<line x1="371.5" y1="275.5" x2="371.5" y2="302.5" stroke="#000080" stroke-width="1.15" stroke-linecap="square" />
<line x1="371.5" y1="302.5" x2="371.5" y2="309.5" stroke="#000000" stroke-width="1.15" stroke-linecap="square" />
<polyline points="371.5,309 368.9,309.9 374.3,312.2 368.9,315.0 374.3,317.9 371.5,319.6" stroke="#0000FF" stroke-width="1.15" fill="none" stroke-linecap="square" />
<line x1="371.5" y1="319.5" x2="371.5" y2="329.5" stroke="#000000" stroke-width="1.15" stroke-linecap="square" />
<line x1="371.5" y1="329.5" x2="371.5" y2="338.5" stroke="#000080" stroke-width="1.15" stroke-linecap="square" />
<line x1="359.5" y1="338.5" x2="371.5" y2="338.5" stroke="#000080" stroke-width="1.15" stroke-linecap="square" />
<circle cx="371.5" cy="338.3" r="2.5" fill="#000080"/>
<line x1="371.5" y1="338.5" x2="371.5" y2="351.5" stroke="#800000" stroke-width="1.15" stroke-linecap="square" />
<line x1="358.5" y1="351.5" x2="383.5" y2="351.5" stroke="#800000" stroke-width="1.15" stroke-linecap="butt" />
<line x1="362.5" y1="354.5" x2="379.5" y2="354.5" stroke="#800000" stroke-width="1.15" stroke-linecap="butt" />
<line x1="366.5" y1="358.5" x2="375.5" y2="358.5" stroke="#800000" stroke-width="1.15" stroke-linecap="butt" />
<line x1="369.5" y1="362.5" x2="372.5" y2="362.5" stroke="#800000" stroke-width="1.15" stroke-linecap="butt" />
<text class="se" fill="#000080" font-size="11.3" letter-spacing="0.3" transform="translate(356.7,311.6) rotate(-90)">30.1K</text>
<text class="se" fill="#000080" font-size="11.3" transform="translate(356.7,334.3) rotate(-90)">R6</text>
<text class="se" fill="#000080" font-size="11.3" transform="translate(368.9,310.3) rotate(-90)">10K</text>
<text class="se" fill="#000080" font-size="11.3" transform="translate(368.9,334.3) rotate(-90)">R7</text>
<text transform="translate(695,42.05) scale(1,1.1)" class="se" fill="#000080" font-size="11.3" text-anchor="start" >P2</text>
<text x="707.4" y="61.05" class="se" fill="#000000" stroke="#000000" stroke-width="0.15" font-size="11.3" text-anchor="middle" >1</text>
<text x="707.2" y="73.05" class="se" fill="#000000" stroke="#000000" stroke-width="0.15" font-size="11.3" text-anchor="middle" >2</text>
<text transform="translate(695.6,93.05) scale(1,1.1)" class="se" fill="#000080" font-size="11.3" text-anchor="start" >XH2.54-2A</text>
<line x1="658.5" y1="57.5" x2="670.5" y2="57.5" stroke="#800000" stroke-width="1.15" stroke-linecap="square" />
<line x1="670.5" y1="57.5" x2="696.5" y2="57.5" stroke="#000000" stroke-width="1.15" stroke-linecap="square" />
<line x1="658.5" y1="69.5" x2="670.5" y2="69.5" stroke="#800000" stroke-width="1.15" stroke-linecap="square" />
<line x1="670.5" y1="69.5" x2="696.5" y2="69.5" stroke="#000000" stroke-width="1.15" stroke-linecap="square" />
<line x1="658.5" y1="50.5" x2="658.5" y2="64.5" stroke="#800000" stroke-width="1.15" stroke-linecap="square" />
<text x="627" y="60.65" class="se" fill="#800000" font-size="11.3" text-anchor="start" >VSYS</text>
<line x1="658.5" y1="57.5" x2="658.5" y2="81.5" stroke="#800000" stroke-width="1.15" stroke-linecap="butt" />
<line x1="654.5" y1="60.5" x2="654.5" y2="78.5" stroke="#800000" stroke-width="1.15" stroke-linecap="butt" />
<line x1="650.5" y1="64.5" x2="650.5" y2="74.5" stroke="#800000" stroke-width="1.15" stroke-linecap="butt" />
<line x1="646.5" y1="67.5" x2="646.5" y2="70.5" stroke="#800000" stroke-width="1.15" stroke-linecap="butt" />
<text transform="translate(698,176.05) scale(1,1.1)" class="se" fill="#000080" font-size="11.3" text-anchor="start" >P3</text>
<text x="710.3" y="195.05" class="se" fill="#000000" stroke="#000000" stroke-width="0.15" font-size="11.3" text-anchor="middle" >1</text>
<text x="709.5" y="207.05" class="se" fill="#000000" stroke="#000000" stroke-width="0.15" font-size="11.3" text-anchor="middle" >2</text>
<text transform="translate(698,226.65) scale(1,1.1)" class="se" fill="#000080" font-size="11.3" text-anchor="start" >XH2.54-2A</text>
<line x1="660.5" y1="191.5" x2="673.5" y2="191.5" stroke="#800000" stroke-width="1.15" stroke-linecap="square" />
<line x1="673.5" y1="191.5" x2="698.5" y2="191.5" stroke="#000000" stroke-width="1.15" stroke-linecap="square" />
<line x1="660.5" y1="203.5" x2="673.5" y2="203.5" stroke="#800000" stroke-width="1.15" stroke-linecap="square" />
<line x1="673.5" y1="203.5" x2="698.5" y2="203.5" stroke="#000000" stroke-width="1.15" stroke-linecap="square" />
<line x1="660.5" y1="184.5" x2="660.5" y2="198.5" stroke="#800000" stroke-width="1.15" stroke-linecap="square" />
<text x="635.2" y="194.65" class="se" fill="#800000" font-size="11.3" text-anchor="start" letter-spacing="0.5">BAT</text>
<line x1="660.5" y1="191.5" x2="660.5" y2="215.5" stroke="#800000" stroke-width="1.15" stroke-linecap="butt" />
<line x1="656.5" y1="194.5" x2="656.5" y2="212.5" stroke="#800000" stroke-width="1.15" stroke-linecap="butt" />
<line x1="652.5" y1="198.5" x2="652.5" y2="208.5" stroke="#800000" stroke-width="1.15" stroke-linecap="butt" />
<line x1="649.5" y1="201.5" x2="649.5" y2="204.5" stroke="#800000" stroke-width="1.15" stroke-linecap="butt" />
<text x="278.7" y="392.65" class="se" fill="#800000" font-size="11.3" text-anchor="start" >VSYS</text>
<line x1="309.5" y1="382.5" x2="309.5" y2="394.5" stroke="#800000" stroke-width="1.15" stroke-linecap="square" />
<line x1="309.5" y1="389.5" x2="321.5" y2="389.5" stroke="#800000" stroke-width="1.15" stroke-linecap="square" />
<circle cx="322.0" cy="388.4" r="2.5" fill="#000080"/>
<line x1="322.5" y1="389.5" x2="328.5" y2="389.5" stroke="#000080" stroke-width="1.15" stroke-linecap="square" />
<line x1="328.5" y1="389.5" x2="337.5" y2="389.5" stroke="#000000" stroke-width="1.15" stroke-linecap="square" />
<polyline points="337,389.5 337.9,386.9 340.2,392.3 343.0,386.9 345.9,392.3 347.6,389.5" stroke="#0000FF" stroke-width="1.15" fill="none" stroke-linecap="square" />
<line x1="347.5" y1="389.5" x2="355.5" y2="389.5" stroke="#000000" stroke-width="1.15" stroke-linecap="square" />
<line x1="355.5" y1="389.5" x2="369.5" y2="389.5" stroke="#000080" stroke-width="1.15" stroke-linecap="square" />
<line x1="369.5" y1="389.5" x2="393.5" y2="389.5" stroke="#000000" stroke-width="1.15" stroke-linecap="square" />
<path d="M394,376.0L394,402.0L407.4,389.5Z" fill="#0000FF"/>
<line x1="407.5" y1="376.5" x2="407.5" y2="401.5" stroke="#0000FF" stroke-width="1.15" stroke-linecap="square" />
<line x1="407.5" y1="389.5" x2="431.5" y2="389.5" stroke="#000000" stroke-width="1.15" stroke-linecap="square" />
<line x1="431.5" y1="389.5" x2="519.5" y2="389.5" stroke="#000080" stroke-width="1.15" stroke-linecap="square" />
<line x1="407.2" y1="371.5" x2="412.85" y2="365.38" stroke="#0000FF" stroke-width="1.1"/>
<path d="M415.7,362.3L413.66,368.04L412.85,365.38L410.14,364.78Z" fill="#0000FF"/>
<line x1="412.1" y1="376.7" x2="417.93" y2="370.47" stroke="#0000FF" stroke-width="1.1"/>
<path d="M420.8,367.4L418.73,373.13L417.93,370.47L415.22,369.85Z" fill="#0000FF"/>
<line x1="322.5" y1="418.5" x2="328.5" y2="418.5" stroke="#000080" stroke-width="1.15" stroke-linecap="square" />
<line x1="328.5" y1="418.5" x2="338.5" y2="418.5" stroke="#000000" stroke-width="1.15" stroke-linecap="square" />
<polyline points="338,418.5 338.9,415.9 341.2,421.3 344.0,415.9 346.9,421.3 348.6,418.5" stroke="#0000FF" stroke-width="1.15" fill="none" stroke-linecap="square" />
<line x1="348.5" y1="418.5" x2="355.5" y2="418.5" stroke="#000000" stroke-width="1.15" stroke-linecap="square" />
<line x1="355.5" y1="418.5" x2="369.5" y2="418.5" stroke="#000080" stroke-width="1.15" stroke-linecap="square" />
<line x1="369.5" y1="418.5" x2="393.5" y2="418.5" stroke="#000000" stroke-width="1.15" stroke-linecap="square" />
<path d="M394,405.0L394,431.0L407.4,418.5Z" fill="#0000FF"/>
<line x1="407.5" y1="405.5" x2="407.5" y2="430.5" stroke="#0000FF" stroke-width="1.15" stroke-linecap="square" />
<line x1="407.5" y1="418.5" x2="431.5" y2="418.5" stroke="#000000" stroke-width="1.15" stroke-linecap="square" />
<line x1="431.5" y1="418.5" x2="519.5" y2="418.5" stroke="#000080" stroke-width="1.15" stroke-linecap="square" />
<line x1="407.2" y1="400.5" x2="412.85" y2="394.38" stroke="#0000FF" stroke-width="1.1"/>
<path d="M415.7,391.3L413.66,397.04L412.85,394.38L410.14,393.78Z" fill="#0000FF"/>
<line x1="412.1" y1="405.7" x2="417.93" y2="399.47" stroke="#0000FF" stroke-width="1.1"/>
<path d="M420.8,396.4L418.73,402.13L417.93,399.47L415.22,398.85Z" fill="#0000FF"/>
<polyline points="322.5,389.5 322.5,418.5 328.5,418.5" stroke="#000080" stroke-width="1.15" fill="none" stroke-linecap="square" />
<text x="336" y="384.45" class="se" fill="#000080" font-size="11.3" text-anchor="start" >R8</text>
<text x="335" y="400.95" class="se" fill="#000080" font-size="11.3" text-anchor="start" >2.21K</text>
<text x="337" y="412.65" class="se" fill="#000080" font-size="11.3" text-anchor="start" >R9</text>
<text x="336" y="429.45" class="se" fill="#000080" font-size="11.3" text-anchor="start" >2.21K</text>
<text x="370" y="387.65" class="se" fill="#000080" font-size="11.3" text-anchor="start" >D1</text>
<text x="370" y="416.85" class="se" fill="#000080" font-size="11.3" text-anchor="start" >D2</text>
<text x="412" y="386.15" class="se" fill="#000080" font-size="11.3" text-anchor="start" >RED</text>
<text x="412" y="415.05" class="se" fill="#000080" font-size="11.3" text-anchor="start" >G</text>
<text x="445.6" y="386.15" class="se" fill="#FF0000" font-size="11.3" text-anchor="start" letter-spacing="0.5">STAT</text>
<text x="447.7" y="415.05" class="se" fill="#FF0000" font-size="11.3" text-anchor="start" >PGOOD</text>
</svg></body></html>
